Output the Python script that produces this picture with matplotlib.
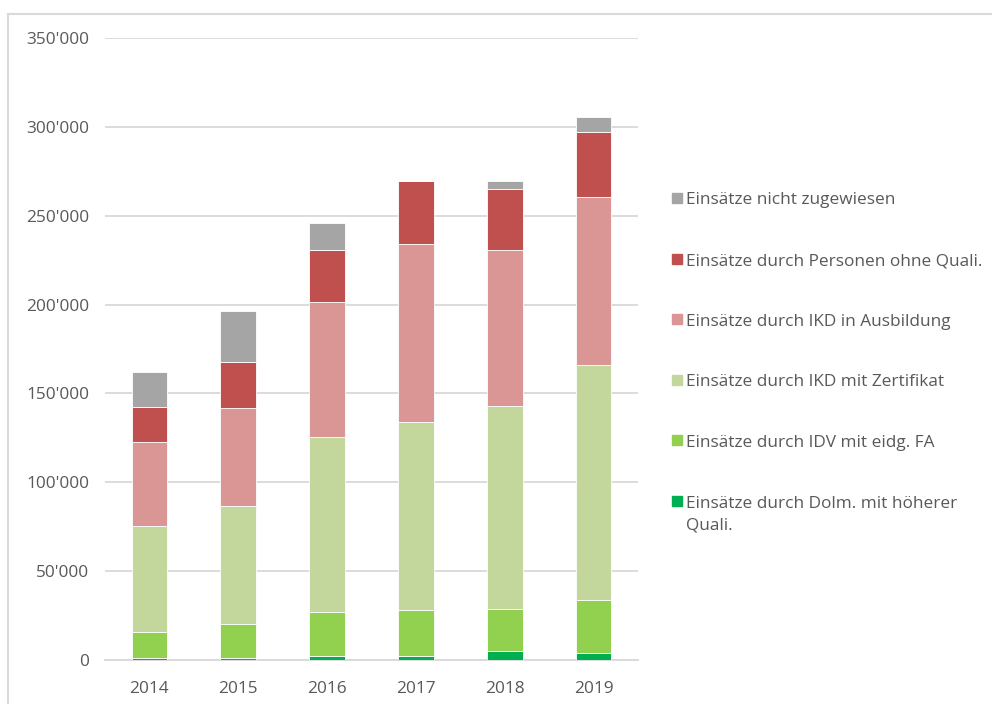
import matplotlib.pyplot as plt
import matplotlib.ticker as mticker
from matplotlib.lines import Line2D
from matplotlib.patches import Rectangle
import numpy as np

years = ["2014", "2015", "2016", "2017", "2018", "2019"]

# stacked from bottom to top
dolm_hoeher = [1000, 1000, 2000, 2000, 4900, 3900]
idv_fa = [14800, 19300, 25000, 26100, 23800, 29900]
ikd_zert = [59600, 66400, 98500, 105600, 114400, 132400]
ikd_ausb = [47300, 55100, 75900, 100200, 87400, 94500]
ohne_quali = [19800, 25900, 29500, 35800, 34300, 36400]
nicht_zugew = [19600, 28500, 14800, 0, 4900, 8600]

series = [
    ("Einsätze durch Dolm. mit höherer\nQuali.", dolm_hoeher, "#00B050"),
    ("Einsätze durch IDV mit eidg. FA", idv_fa, "#92D050"),
    ("Einsätze durch IKD mit Zertifikat", ikd_zert, "#C3D69B"),
    ("Einsätze durch IKD in Ausbildung", ikd_ausb, "#D99694"),
    ("Einsätze durch Personen ohne Quali.", ohne_quali, "#C0504D"),
    ("Einsätze nicht zugewiesen", nicht_zugew, "#A5A5A5"),
]

plt.rcParams["font.family"] = ["Open Sans", "DejaVu Sans"]
text_color = "#595959"
grid_color = "#D9D9D9"

fig = plt.figure(figsize=(9.92, 7.04), dpi=100)
ax = fig.add_axes([105 / 992, 44 / 704, 533 / 992, 622 / 704])

x = np.arange(len(years))
bottom = np.zeros(len(years))
for label, values, color in series:
    ax.bar(x, values, width=0.4, bottom=bottom, color=color,
           edgecolor="white", linewidth=0.6, zorder=3)
    bottom += np.array(values)

ax.set_xlim(-0.5, len(years) - 0.5)
ax.set_ylim(0, 350000)
ax.set_xticks(x)
ax.set_xticklabels(years)
ax.yaxis.set_major_locator(mticker.MultipleLocator(50000))
ax.yaxis.set_major_formatter(
    mticker.FuncFormatter(lambda v, _: f"{int(v):,}".replace(",", "'")))
ax.tick_params(axis="both", length=0, colors=text_color, labelsize=12.4)
ax.tick_params(axis="y", pad=11.5)
ax.tick_params(axis="x", pad=15)
ax.grid(axis="y", color=grid_color, linewidth=1.3, zorder=0)
for side in ["top", "right", "left"]:
    ax.spines[side].set_visible(False)
ax.spines["bottom"].set_color(grid_color)
ax.spines["bottom"].set_linewidth(1.3)

# legend drawn by hand, top entry first
W, H = 992, 704
y0, step = 198, 60.6
for i, (label, values, color) in enumerate(reversed(series)):
    yc = y0 + i * step
    fig.patches.append(Rectangle((672 / W, 1 - (yc + 5) / H), 10 / W, 10 / H,
                                 transform=fig.transFigure, color=color))
    fig.text(686 / W, 1 - (yc - 5.5) / H, label, color=text_color,
             fontsize=12.4, va="top", ha="left", linespacing=1.5)

# outer frame
fig.add_artist(Line2D([8 / W, 8 / W], [0, 1 - 14 / H], color=grid_color,
                      linewidth=1.5, transform=fig.transFigure))
fig.add_artist(Line2D([8 / W, 1], [1 - 14 / H, 1 - 14 / H], color=grid_color,
                      linewidth=1.5, transform=fig.transFigure))

fig.savefig("out.png", dpi=100)
